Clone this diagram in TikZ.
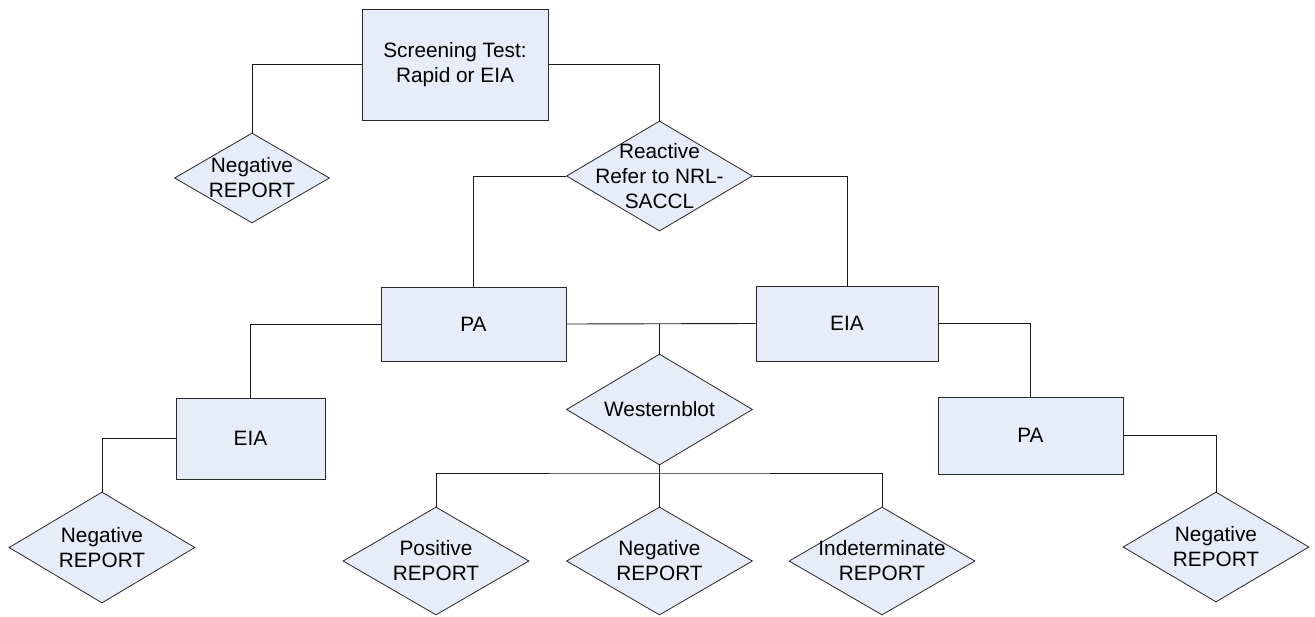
\documentclass[tikz,border=0pt]{standalone}
\usepackage{fontspec}
\setmainfont{Liberation Sans}
\usetikzlibrary{shapes.geometric}
\definecolor{boxfill}{RGB}{230,236,248}
\definecolor{edge}{RGB}{40,40,40}
\begin{document}
\begin{tikzpicture}[x=1pt,y=-1pt,
  every node/.style={font=\fontsize{20.8}{25}\selectfont},
  txt/.style={align=center, inner sep=0pt, fill=none, draw=none},
  stepbox/.style={rectangle, draw=edge, fill=boxfill, line width=1pt, align=center, inner sep=0pt},
  dia/.style={diamond, draw=edge, fill=boxfill, line width=0.8pt, inner sep=0pt, minimum width=186pt, minimum height=110pt},
  conn/.style={draw=black!90, line width=0.9pt}]
\useasboundingbox (0,0) rectangle (1315,616);
\fill[white] (0,0) rectangle (1315,616);

% boxes
\node[stepbox, minimum width=186pt, minimum height=111pt] (screen) at (455,64.5) {Screening Test:\\Rapid or EIA};
\node[stepbox, minimum width=185pt, minimum height=74pt] (pa) at (473.5,324) {PA};
\node[stepbox, minimum width=182pt, minimum height=75pt] (eia) at (847,323.5) {EIA};
\node[stepbox, minimum width=149pt, minimum height=81pt] (eial) at (250.5,438.5) {EIA};
\node[stepbox, minimum width=185pt, minimum height=77pt] (par) at (1030.5,435.5) {PA};

% diamonds
\node[dia, minimum width=155pt, minimum height=90pt, label={[txt]center:Negative\\REPORT}] (neg1) at (252,178) {};
\node[dia, label={[txt]center:Reactive\\Refer to NRL-\\SACCL}] (react) at (659.5,176) {};
\node[dia, minimum height=111pt, label={[txt]center:Westernblot}] (west) at (659.5,409.5) {};
\node[dia, minimum height=111pt, label={[txt]center:Negative\\REPORT}] (negl) at (102,547.5) {};
\node[dia, minimum height=108pt, label={[txt]center:Positive\\REPORT}] (pos) at (436,561) {};
\node[dia, minimum height=108pt, label={[txt]center:Negative\\REPORT}] (negm) at (659.5,561) {};
\node[dia, minimum height=108pt, label={[txt]center:Indeterminate\\REPORT}] (indet) at (882,561) {};
\node[dia, label={[txt]center:Negative\\REPORT}] (negr) at (1216,547) {};

% connectors
\draw[conn] (screen.west) -| (neg1.north);
\draw[conn] (screen.east) -| (react.north);
\draw[conn] (react.west) -| (pa.north);
\draw[conn] (react.east) -| (eia.north);
\draw[conn] (pa.west) -| (eial.north);
\draw[conn] (pa.east) -- (eia.west);
\coordinate (wtop) at (west.north |- pa.east);
\draw[conn] (wtop) -- (west.north);
\draw[conn] (eia.east) -| (par.north);
\draw[conn] (eial.west) -| (negl.north);
\draw[conn] (par.east) -| (negr.north);
\coordinate (bus) at (659.5,473);
\draw[conn] (pos.north) |- (bus) -| (indet.north);
\draw[conn] (west.south) -- (negm.north);
\end{tikzpicture}
\end{document}
